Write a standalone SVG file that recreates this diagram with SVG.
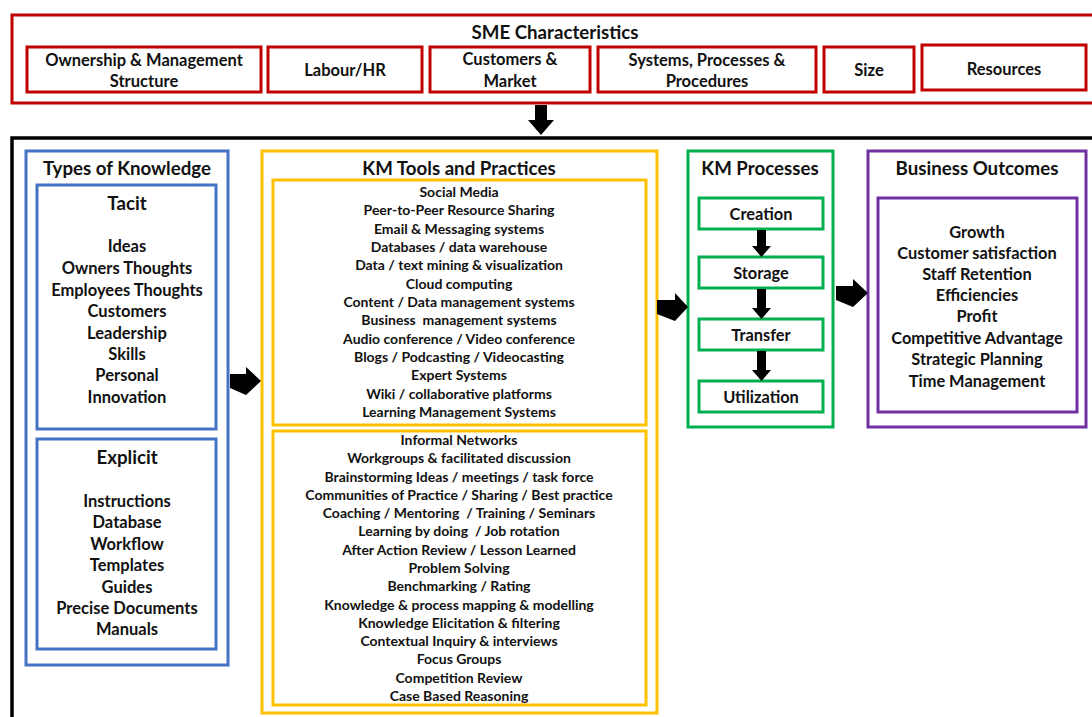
<svg xmlns="http://www.w3.org/2000/svg" width="1092" height="717" viewBox="0 0 1092 717">
<style>
text{font-family:Lato,"Liberation Sans",sans-serif;font-weight:bold;fill:#111;text-anchor:middle;dominant-baseline:central;white-space:pre}
.t{font-size:18.7px}
.h{font-size:16.4px}
.i{font-size:16.5px}
.s{font-size:14px}
.r{fill:#fff;stroke:#C00000;stroke-width:3}
.b{fill:#fff;stroke:#4472C4;stroke-width:3}
.y{fill:#fff;stroke:#FFC000;stroke-width:3}
.g{fill:#fff;stroke:#00B050;stroke-width:3}
.p{fill:#fff;stroke:#7030A0;stroke-width:3}
.a{fill:#000}
</style>
<rect width="1092" height="717" fill="#fff"/>
<g id="sme">
<rect class="r" x="12" y="15" width="1090" height="88"/>
<text class="t" x="555" y="31.5">SME Characteristics</text>
</g>
<g id="sme-ownership"><rect class="r" x="27" y="47" width="234" height="45"/><text class="i" x="144" y="59.5">Ownership &amp; Management</text><text class="i" x="144" y="80.5">Structure</text></g>
<g id="sme-labour"><rect class="r" x="268" y="47" width="154" height="45"/><text class="i" x="345" y="69.5">Labour/HR</text></g>
<g id="sme-customers"><rect class="r" x="430" y="47" width="160" height="45"/><text class="i" x="510" y="58.5">Customers &amp;</text><text class="i" x="510" y="80.5">Market</text></g>
<g id="sme-systems"><rect class="r" x="598" y="47" width="218" height="45"/><text class="i" x="707" y="59.5">Systems, Processes &amp;</text><text class="i" x="707" y="80.5">Procedures</text></g>
<g id="sme-size"><rect class="r" x="824" y="47" width="90" height="45"/><text class="i" x="869" y="69.5">Size</text></g>
<g id="sme-resources"><rect class="r" x="922" y="45" width="164" height="45"/><text class="i" x="1004" y="68.5">Resources</text></g>
<g id="frame"><rect x="12" y="138" width="1090" height="600" fill="none" stroke="#000" stroke-width="3.5"/></g>
<g id="types">
<rect class="b" x="26" y="151" width="202" height="514"/>
<text class="t" x="127" y="167.5">Types of Knowledge</text>
</g>
<g id="tacit">
<rect class="b" x="37" y="185" width="179" height="244"/>
<text class="t" x="127" y="202.5">Tacit</text>
<text class="i" x="127" y="245.5">Ideas</text>
<text class="i" x="127" y="267.5">Owners Thoughts</text>
<text class="i" x="127" y="289.5">Employees Thoughts</text>
<text class="i" x="127" y="310.5">Customers</text>
<text class="i" x="127" y="332.5">Leadership</text>
<text class="i" x="127" y="353.5">Skills</text>
<text class="i" x="127" y="374.5">Personal</text>
<text class="i" x="127" y="396.5">Innovation</text>
</g>
<g id="explicit">
<rect class="b" x="37" y="439" width="179" height="210"/>
<text class="t" x="127" y="456.5">Explicit</text>
<text class="i" x="127" y="500.5">Instructions</text>
<text class="i" x="127" y="521.5">Database</text>
<text class="i" x="127" y="543.5">Workflow</text>
<text class="i" x="127" y="564.5">Templates</text>
<text class="i" x="127" y="586.5">Guides</text>
<text class="i" x="127" y="607.5">Precise Documents</text>
<text class="i" x="127" y="628.5">Manuals</text>
</g>
<g id="tools">
<rect class="y" x="262" y="151" width="395" height="562"/>
<text class="t" x="459" y="167.5">KM Tools and Practices</text>
</g>
<g id="tools-tech">
<rect class="y" x="273" y="180" width="373" height="245"/>
<text class="s" x="459" y="191.5">Social Media</text>
<text class="s" x="459" y="209.8">Peer-to-Peer Resource Sharing</text>
<text class="s" x="459" y="228.2">Email &amp; Messaging systems</text>
<text class="s" x="459" y="246.5">Databases / data warehouse</text>
<text class="s" x="459" y="264.8">Data / text mining &amp; visualization</text>
<text class="s" x="459" y="283.2">Cloud computing</text>
<text class="s" x="459" y="301.5">Content / Data management systems</text>
<text class="s" x="459" y="319.8">Business  management systems</text>
<text class="s" x="459" y="338.2">Audio conference / Video conference</text>
<text class="s" x="459" y="356.5">Blogs / Podcasting / Videocasting</text>
<text class="s" x="459" y="374.8">Expert Systems</text>
<text class="s" x="459" y="393.2">Wiki / collaborative platforms</text>
<text class="s" x="459" y="411.5">Learning Management Systems</text>
</g>
<g id="tools-practice">
<rect class="y" x="273" y="431" width="373" height="274"/>
<text class="s" x="459" y="439.5">Informal Networks</text>
<text class="s" x="459" y="457.8">Workgroups &amp; facilitated discussion</text>
<text class="s" x="459" y="476.1">Brainstorming Ideas / meetings / task force</text>
<text class="s" x="459" y="494.4">Communities of Practice / Sharing / Best practice</text>
<text class="s" x="459" y="512.6">Coaching / Mentoring  / Training / Seminars</text>
<text class="s" x="459" y="530.9">Learning by doing  / Job rotation</text>
<text class="s" x="459" y="549.2">After Action Review / Lesson Learned</text>
<text class="s" x="459" y="567.5">Problem Solving</text>
<text class="s" x="459" y="585.8">Benchmarking / Rating</text>
<text class="s" x="459" y="604.1">Knowledge &amp; process mapping &amp; modelling</text>
<text class="s" x="459" y="622.4">Knowledge Elicitation &amp; filtering</text>
<text class="s" x="459" y="640.6">Contextual Inquiry &amp; interviews</text>
<text class="s" x="459" y="658.9">Focus Groups</text>
<text class="s" x="459" y="677.2">Competition Review</text>
<text class="s" x="459" y="695.5">Case Based Reasoning</text>
</g>
<g id="processes">
<rect class="g" x="688" y="151" width="145" height="276"/>
<text class="t" x="760" y="167.5">KM Processes</text>
</g>
<g id="creation"><rect class="g" x="699" y="198" width="124" height="31"/><text class="h" x="761" y="213.5">Creation</text></g>
<g id="storage"><rect class="g" x="699" y="257" width="124" height="31"/><text class="h" x="761" y="272.5">Storage</text></g>
<g id="transfer"><rect class="g" x="699" y="319" width="124" height="31"/><text class="h" x="761" y="334.5">Transfer</text></g>
<g id="utilization"><rect class="g" x="699" y="381" width="124" height="31"/><text class="h" x="761" y="396.5">Utilization</text></g>
<g id="outcomes">
<rect class="p" x="868" y="151" width="218" height="276"/>
<text class="t" x="977" y="167.5">Business Outcomes</text>
</g>
<g id="outcomes-list">
<rect class="p" x="878" y="198" width="199" height="214"/>
<text class="h" x="977" y="231.5">Growth</text>
<text class="h" x="977" y="252.5">Customer satisfaction</text>
<text class="h" x="977" y="273.5">Staff Retention</text>
<text class="h" x="977" y="294.5">Efficiencies</text>
<text class="h" x="977" y="315.5">Profit</text>
<text class="h" x="977" y="337.5">Competitive Advantage</text>
<text class="h" x="977" y="358.5">Strategic Planning</text>
<text class="h" x="977" y="380.5">Time Management</text>
</g>
<g id="connectors">
<polygon class="a" points="535,105 547,105 547,120 554,120 541,135 528,120 535,120"/>
<polygon class="a" points="230,374 246,374 246,367 261,381 246,395 230,388"/>
<polygon class="a" points="657,300 675,300 675,293 688,307 675,321 657,314"/>
<polygon class="a" points="836,286 853,286 853,279 868,293 853,307 836,300"/>
<polygon class="a" points="757,230 766,230 766,246 771,246 761.5,257 752,246 757,246"/>
<polygon class="a" points="757,289 766,289 766,308 771,308 761.5,319 752,308 757,308"/>
<polygon class="a" points="757,351 766,351 766,370 771,370 761.5,381 752,370 757,370"/>
</g>
</svg>
